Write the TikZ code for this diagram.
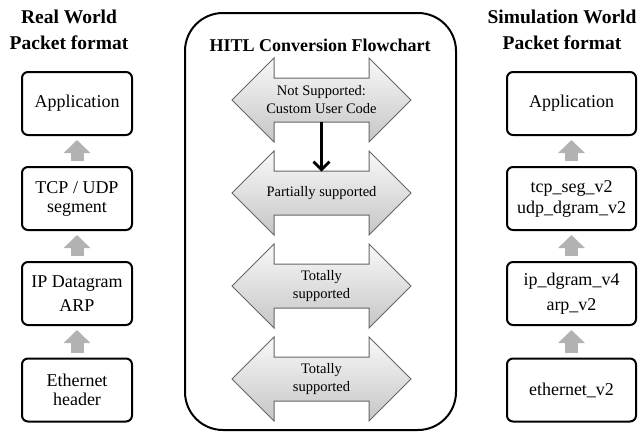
\documentclass[tikz,border=0pt]{standalone}
\usepackage{fontspec}
\setmainfont{Liberation Serif}
\usetikzlibrary{shapes.arrows}
\usetikzlibrary{arrows.meta}

\tikzset{
  coltitle/.style={align=center,font=\bfseries\fontsize{19.5}{26}\selectfont},
  layerbox/.style={draw,line width=2pt,rounded corners=6pt,minimum height=63pt,align=center,font=\fontsize{18}{19}\selectfont},
  layerup/.style={draw=gray!60,line width=13pt,-{Triangle[length=13pt,width=26pt]},shorten <=5pt,shorten >=4pt},
  convarrow/.style={double arrow,double arrow head extend=20pt,minimum height=179pt,text height=43pt,text depth=0pt,inner sep=0pt,draw=black!60,line width=1pt,top color=gray!5,bottom color=gray!45},
  convlabel/.style={align=center,font=\fontsize{14.5}{18}\selectfont},
  flowarrow/.style={line width=2.8pt,-{Straight Barb[length=8pt,width=16pt]}}
}

\begin{document}
\begin{tikzpicture}[x=1pt,y=-1pt]
    \useasboundingbox (0,0) rectangle (641,434);
    % real world column
    \node[coltitle] (rwt) at (69,30) {Real World\\Packet format};
    \node[layerbox,minimum width=110pt] (rw1) at (77,103.5) {Application};
    \node[layerbox,minimum width=110pt] (rw2) at (77,198.5) {TCP / UDP\\segment};
    \node[layerbox,minimum width=110pt] (rw3) at (77,293.5) {IP Datagram\\[5pt]ARP};
    \node[layerbox,minimum width=110pt] (rw4) at (77,390) {Ethernet\\header};
    % simulation world column
    \node[coltitle] (swt) at (562,30) {Simulation World\\Packet format};
    \node[layerbox,minimum width=129pt] (sw1) at (571.5,103.5) {Application};
    \node[layerbox,minimum width=129pt] (sw2) at (571.5,198.5) {tcp\_seg\_v2\\[2pt]udp\_dgram\_v2};
    \node[layerbox,minimum width=129pt] (sw3) at (571.5,293.5) {ip\_dgram\_v4\\[6pt]arp\_v2};
    \node[layerbox,minimum width=129pt] (sw4) at (571.5,390) {ethernet\_v2};
    \foreach \lo/\hi in {rw2/rw1,rw3/rw2,rw4/rw3,sw2/sw1,sw3/sw2,sw4/sw3}
        \draw[layerup] (\lo.north) -- (\hi.south);
    % conversion flowchart
    \draw[line width=2pt,rounded corners=38pt] (185,13) rectangle (456,430);
    \node[font=\bfseries\fontsize{18}{22}\selectfont] (hitl) at (320,45) {HITL Conversion Flowchart};
    \foreach \i/\y/\txt in {1/100/{Not Supported:\\Custom User Code},2/193/{Partially supported},3/286/{Totally\\supported},4/379/{Totally\\supported}} {
        \node[convarrow] (ca\i) at (321.5,\y) {};
        \node[convlabel] (cl\i) at (ca\i) {\txt};
    }
    \draw[flowarrow] ([yshift=-21.5pt]ca1.center) -- ([yshift=21.5pt]ca2.center);
\end{tikzpicture}
\end{document}
